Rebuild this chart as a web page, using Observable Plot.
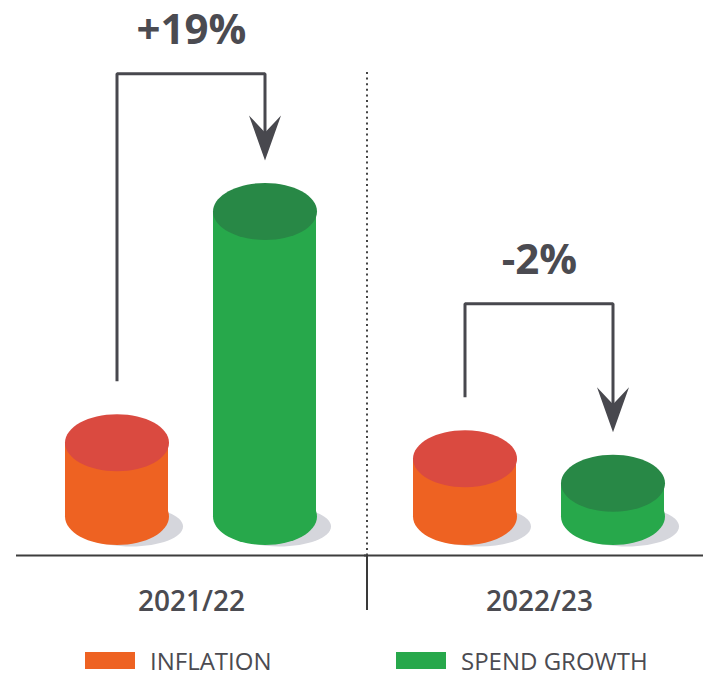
<!DOCTYPE html>
<html><head><meta charset="utf-8">
<script src="https://cdn.jsdelivr.net/npm/d3@7"></script>
<script src="https://cdn.jsdelivr.net/npm/@observablehq/plot@0.6"></script>
<style>
body{margin:0;background:#fff;font-family:"Open Sans",sans-serif;}
#chart{width:703px;}
#chart svg{display:block;}
.legend{position:relative;height:40px;width:703px;}
.item{position:absolute;top:0;height:40px;display:flex;align-items:center;font-size:24px;color:#4b4b51;white-space:nowrap;}
.sw{width:50px;height:17px;margin-right:15px;}
</style></head><body>
<div id="chart"></div>
<script>
// ---- data ----
const years = ["2021/22", "2022/23"];
const seriesNames = ["Inflation", "Spend growth"];
const inflation = [6.0, 4.7];
const spendGrowth = [24.8, 2.7];
const differenceLabels = ["+19%", "-2%"];
const bracketLevels = [36.0, 17.3];
const legendLabels = ["INFLATION", "SPEND GROWTH"];

// ---- styles ----
const sideColors = ["#EE6222", "#27A84B"];
const capColors = ["#DA4A40", "#288846"];
const shadowColor = "#D5D6DC";
const ink = "#4b4b51";
const arrowInk = "#48484e";

const rows = years.flatMap((year, i) => [
  {year, series: seriesNames[0], value: inflation[i]},
  {year, series: seriesNames[1], value: spendGrowth[i]}
]);
const bySeries = s => rows.filter(d => d.series === s);

function ellipse(rx, ry) {
  const k = 0.5522847498;
  return {draw(c) {
    c.moveTo(rx, 0);
    c.bezierCurveTo(rx, ry * k, rx * k, ry, 0, ry);
    c.bezierCurveTo(-rx * k, ry, -rx, ry * k, -rx, 0);
    c.bezierCurveTo(-rx, -ry * k, -rx * k, -ry, 0, -ry);
    c.bezierCurveTo(rx * k, -ry, rx, -ry * k, rx, 0);
    c.closePath();
  }};
}
const arrowHead = {draw(c) {
  c.moveTo(0, 0);
  c.lineTo(-16, -45);
  c.lineTo(0, -28);
  c.lineTo(16, -45);
  c.closePath();
}};

const annotations = years.map((year, i) => ({
  year, label: differenceLabels[i], level: bracketLevels[i], from: inflation[i], to: spendGrowth[i]
}));
const startGap = 5, tipGap = 4.15, notchGap = 1.6;
const bracketPoints = annotations.flatMap(a => [
  {year: a.year, series: seriesNames[0], y: a.from + startGap},
  {year: a.year, series: seriesNames[0], y: a.level},
  {year: a.year, series: seriesNames[1], y: a.level},
  {year: a.year, series: seriesNames[1], y: a.to + tipGap + notchGap}
]);

const marks = [
  // baseline
  Plot.ruleY([0], {dy: 39, insetLeft: -12, insetRight: -12, stroke: "#3d3d3d", strokeWidth: 2}),
  // divider (dotted inside frame, solid below)
  Plot.ruleX([years[1]], {fx: d => d, x: () => seriesNames[0], dx: -98, stroke: "#444", strokeWidth: 2, strokeDasharray: "2,3.6"}),
  Plot.ruleX([years[1]], {fx: d => d, x: () => seriesNames[0], dx: -98, insetTop: 483, insetBottom: -55, stroke: "#3a3a3a", strokeWidth: 2}),
  // shadows
  Plot.dot(rows, {fx: "year", x: "series", y: () => 0, dx: 14, dy: 10, symbol: ellipse(52, 20), fill: shadowColor, stroke: null}),
  // cylinders
  ...seriesNames.flatMap((s, k) => [
    Plot.dot(bySeries(s), {fx: "year", x: "series", y: () => 0, symbol: ellipse(52, 28.5), fill: sideColors[k], stroke: null}),
    Plot.barY(bySeries(s), {fx: "year", x: "series", y: "value", fill: sideColors[k], inset: 0}),
    Plot.dot(bySeries(s), {fx: "year", x: "series", y: "value", symbol: ellipse(52, 28.5), fill: capColors[k], stroke: null})
  ]),
  // annotations
  Plot.line(bracketPoints, {fx: "year", x: "series", y: "y", z: "year", stroke: arrowInk, strokeWidth: 3, strokeLinejoin: "miter", strokeLinecap: "butt"}),
  Plot.dot(annotations, {fx: "year", x: () => seriesNames[1], y: d => d.to + tipGap, symbol: arrowHead, fill: arrowInk, stroke: null}),
  Plot.text(annotations, {fx: "year", y: "level", text: "label", lineAnchor: "bottom", dy: -30, fontSize: 42, fontWeight: 700, fill: ink}),
  // year labels
  Plot.text(years, {fx: d => d, text: d => d, frameAnchor: "bottom", lineAnchor: "bottom", dy: 55, fontSize: 28, fontWeight: 600, fill: ink})
];

const chart = Plot.plot({
  width: 703,
  height: 640,
  marginTop: 72,
  marginBottom: 85,
  marginLeft: 27,
  marginRight: 0,
  fx: {domain: years, paddingInner: 0.063, paddingOuter: 0, axis: null, label: null},
  x: {domain: seriesNames, paddingInner: 0.302, paddingOuter: 0.2483, axis: null, label: null},
  y: {domain: [0, 40], range: [516, 24], axis: null, label: null},
  style: {fontFamily: "'Open Sans', sans-serif", background: "white", overflow: "visible"},
  marks
});
document.getElementById("chart").appendChild(chart);

// legend
const legend = document.createElement("div");
legend.className = "legend";
const legendLefts = [85, 396];
legendLabels.forEach((lab, i) => {
  const item = document.createElement("div");
  item.className = "item";
  item.style.left = legendLefts[i] + "px";
  const sw = document.createElement("div");
  sw.className = "sw";
  sw.style.background = sideColors[i];
  const t = document.createElement("span");
  t.textContent = lab;
  item.appendChild(sw);
  item.appendChild(t);
  legend.appendChild(item);
});
document.getElementById("chart").appendChild(legend);
</script>
</body></html>
